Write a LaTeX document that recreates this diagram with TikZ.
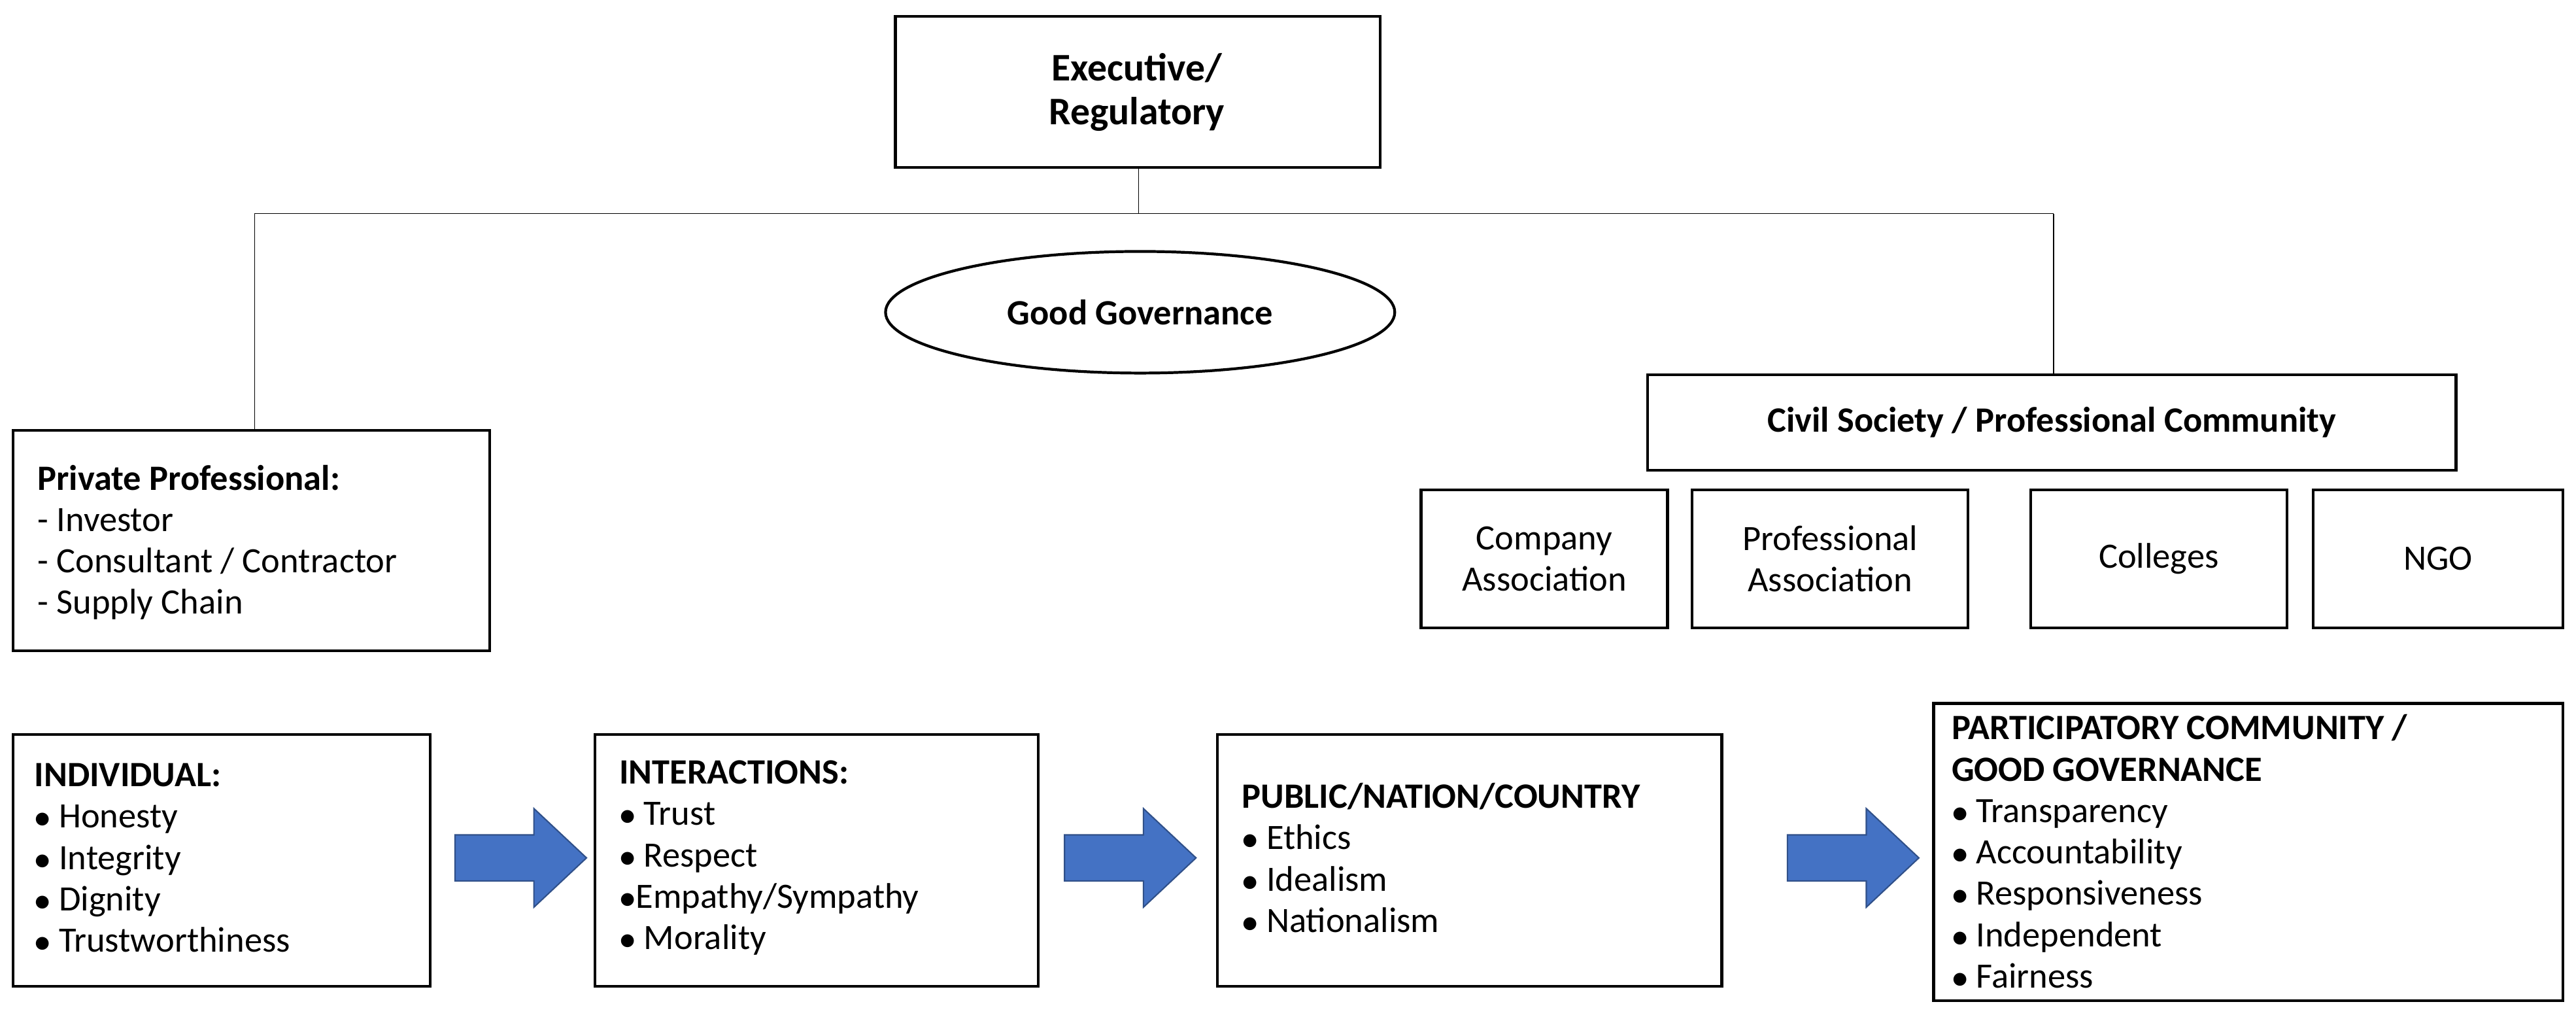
\documentclass[tikz,border=0pt]{standalone}
\usepackage{fontspec}
\setmainfont{Carlito}
\usetikzlibrary{shapes.geometric}
\begin{document}
\begin{tikzpicture}[x=0.025128cm,y=-0.025128cm,
 box/.style={draw,line width=1.2pt,inner sep=0pt},
 txt/.style={font=\fontsize{15.5}{18}\selectfont,align=left,anchor=west},
 ctxt/.style={font=\fontsize{15.5}{18}\selectfont,align=center},
 blk/.style={fill=arrowblue,draw=arrowblue!70!black,line width=0.6pt}]
\definecolor{arrowblue}{HTML}{4472C4}
\useasboundingbox (0,0) rectangle (1568,620);
% top
\draw[box] (545,10) rectangle (840,102);
\node[ctxt,font=\fontsize{17}{19}\selectfont\bfseries] (exec) at (692,56) {Executive/\\Regulatory};
\node[draw,ellipse,line width=1.2pt,minimum width=7.79cm,minimum height=1.86cm,inner sep=0pt,font=\fontsize{15.5}{18}\selectfont\bfseries] (gg) at (694,190) {Good Governance};
\coordinate (top) at (693,102);
\coordinate (j) at (693,130);
\coordinate (l) at (155,130);
\coordinate (r) at (1250,130);
\draw (top) -- (j) (l) -- (r) (l) -- (155,262) (r) -- (1250,228);
% private
\draw[box] (8,262) rectangle (298,396);
\node[txt] (priv) at (18,330) {\textbf{Private Professional:}\\- Investor\\- Consultant / Contractor\\- Supply Chain};
% civil
\draw[box] (1003,228) rectangle (1495,286);
\node[ctxt,font=\fontsize{15.5}{18}\selectfont\bfseries] (civ) at (1249,257) {Civil Society / Professional Community};
\draw[box] (865,298) rectangle (1015,382);
\node[ctxt] (ca) at (940,340) {Company\\Association};
\draw[box] (1030,298) rectangle (1198,382);
\node[ctxt] (pa) at (1114,340) {Professional\\Association};
\draw[box] (1236,298) rectangle (1392,382);
\node[ctxt] (col) at (1314,340) {Colleges};
\draw[box] (1408,298) rectangle (1560,382);
\node[ctxt] (ngo) at (1484,340) {NGO};
% bottom
\draw[box] (8,447) rectangle (262,600);
\node[txt] (ind) at (16,522) {\textbf{INDIVIDUAL:}\\$\bullet$ Honesty\\$\bullet$ Integrity\\$\bullet$ Dignity\\$\bullet$ Trustworthiness};
\draw[box] (362,447) rectangle (632,600);
\node[txt] (int) at (372,522) {\textbf{INTERACTIONS:}\\$\bullet$ Trust\\$\bullet$ Respect\\$\bullet$Empathy/Sympathy\\$\bullet$ Morality};
\draw[box] (741,447) rectangle (1048,600);
\node[txt] (pub) at (751,522) {\textbf{PUBLIC/NATION/COUNTRY}\\$\bullet$ Ethics\\$\bullet$ Idealism\\$\bullet$ Nationalism};
\draw[box] (1177,428) rectangle (1560,609);
\node[txt] (par) at (1183,518) {\textbf{PARTICIPATORY COMMUNITY /}\\\textbf{GOOD GOVERNANCE}\\$\bullet$ Transparency\\$\bullet$ Accountability\\$\bullet$ Responsiveness\\$\bullet$ Independent\\$\bullet$ Fairness};
\foreach \n/\xx in {a1/277,a2/648,a3/1088}{
 \draw[blk,shift={(\xx,522)}] (0,-14) -- (48,-14) -- (48,-30) -- (80,0) -- (48,30) -- (48,14) -- (0,14) -- cycle;
}
\end{tikzpicture}
\end{document}
